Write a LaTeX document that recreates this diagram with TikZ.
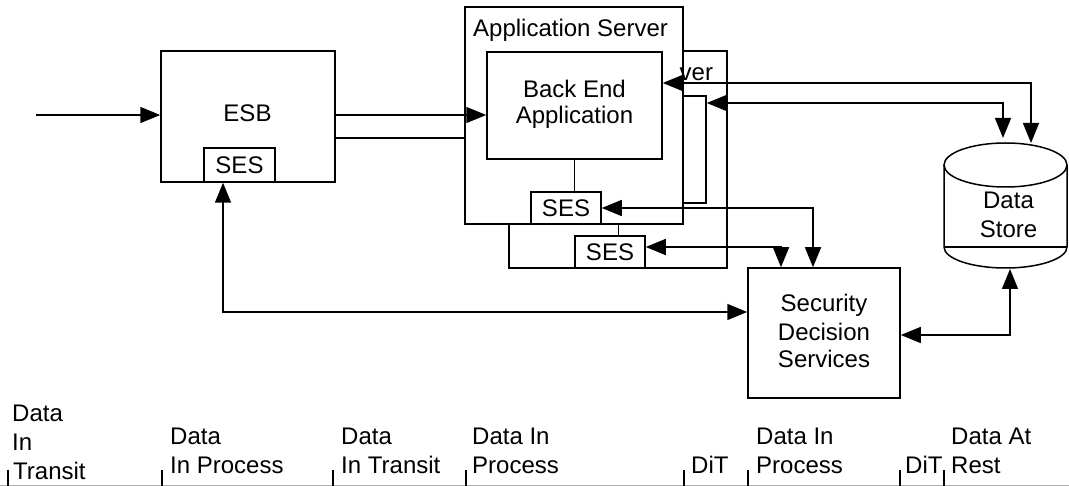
\documentclass[tikz,border=0pt]{standalone}
\usepackage{fontspec}
\setmainfont{Liberation Sans}
\usetikzlibrary{arrows.meta,calc}
\begin{document}
\begin{tikzpicture}[x=1pt,y=-1pt,
  box/.style={draw, fill=white, line width=1.5pt, inner sep=0pt, font=\fontsize{24}{28}\selectfont},
  txt/.style={inner sep=0pt, anchor=base, font=\fontsize{24}{28}\selectfont},
  lab/.style={inner sep=0pt, anchor=base west, font=\fontsize{24}{28}\selectfont},
  con/.style={line width=1.5pt},
  arr/.style={con, -{Triangle[length=20pt,width=16pt]}},
  arrb/.style={con, {Triangle[length=20pt,width=16pt]}-{Triangle[length=20pt,width=16pt]}},
  link/.style={line width=1pt},
  tick/.style={line width=1.2pt}]
\useasboundingbox (0,0) rectangle (1069,486);

% second application server (behind)
\node[box, minimum width=218pt, minimum height=217pt] (srv2) at (618,159.5) {};
\node[box, minimum width=175pt, minimum height=107pt] (be2) at (618.5,149.5) {};
\node[box, minimum width=70pt, minimum height=32pt] (ses2) at (610,252) {SES};
\draw[link] (be2.south) -- (be2.south |- ses2.north);

% first application server
\node[box, minimum width=218pt, minimum height=217pt] (srv1) at (574,115.5) {};
\node[lab] (srv2t) at (679.5,81) {ver};
\node[lab] (srv1t) at (473,37) {Application Server};
\node[box, minimum width=175pt, minimum height=107pt] (be1) at (574.5,105.5) {};
\node[txt] (be1a) at (574.5,98) {Back End};
\node[txt] (be1b) at (574.5,124) {Application};
\node[box, minimum width=70pt, minimum height=32pt] (ses1) at (566,208) {SES};
\draw[link] (be1.south) -- (be1.south |- ses1.north);

% ESB
\node[box, minimum width=174pt, minimum height=131pt] (esb) at (248,116.5) {};
\node[txt] (esbt) at (247.5,122) {ESB};
\node[box, minimum width=71pt, minimum height=34pt] (esbses) at (239.5,165) {SES};

% Security Decision Services
\node[box, minimum width=152pt, minimum height=130pt] (sds) at (824,333) {};
\node[txt] (sds1) at (824,312) {Security};
\node[txt] (sds2) at (824,340.5) {Decision};
\node[txt] (sds3) at (824,367.5) {Services};

% Data store cylinder
\draw[con] (1005.5,165) ellipse [x radius=61.5, y radius=22];
\draw[con] (944,165) -- (944,247) arc[start angle=180, end angle=0, x radius=61.5, y radius=21] -- (1067,165);
\draw[con] (944,247) -- (1067,247);
\node[txt] (ds1) at (1008.5,209) {Data};
\node[txt] (ds2) at (1008.5,238) {Store};

% helper coordinates
\coordinate (in) at (36,115);
\coordinate (yB) at (0,138);
\coordinate (y1) at (0,83);
\coordinate (y2) at (0,103);
\coordinate (y4) at (0,247);
\coordinate (y5) at (0,312);
\coordinate (y6) at (0,335);
\coordinate (x1) at (813,0);
\coordinate (x2) at (781,0);
\coordinate (x3) at (223,0);
\coordinate (dsA) at (1031,143);
\coordinate (dsB) at (1003,138);
\coordinate (dsC) at (1010,269);

% connectors
\draw[arr] (in) -- (in -| esb.west);
\draw[arr] (in -| esb.east) -- (in -| be1.west);
\draw[con] (yB -| esb.east) -- (yB -| srv1.west);
\draw[arrb] (y1 -| be1.east) -| (dsA);
\draw[arrb] (y2 -| be2.east) -| (dsB);
\draw[arrb] (ses1.east) -| (x1 |- sds.north);
\draw[arrb] (y4 -| ses2.east) -| (x2 |- sds.north);
\draw[arrb] (x3 |- esbses.south) |- (y5 -| sds.west);
\draw[arrb] (dsC) |- (y6 -| sds.east);

% bottom scale
\draw[gray!60, line width=1pt] (0,485) -- (1069,485);
\foreach \x in {8,162,333,466,684,748,900,944} \draw[tick] (\x,470) -- (\x,486);

\node[lab] (c1a) at (12,421) {Data};
\node[lab] (c1b) at (12,450) {In};
\node[lab] (c1c) at (13,479) {Transit};
\node[lab] (c2a) at (170,444) {Data};
\node[lab] (c2b) at (170,473) {In Process};
\node[lab] (c3a) at (341,444) {Data};
\node[lab] (c3b) at (341,473) {In Transit};
\node[lab] (c4a) at (472,444) {Data In};
\node[lab] (c4b) at (472,473) {Process};
\node[lab] (c5) at (691,473) {DiT};
\node[lab] (c6a) at (756,444) {Data In};
\node[lab] (c6b) at (756,473) {Process};
\node[lab] (c7) at (905,473) {DiT};
\node[lab] (c8a) at (951,444) {Data At};
\node[lab] (c8b) at (951,473) {Rest};
\end{tikzpicture}
\end{document}
